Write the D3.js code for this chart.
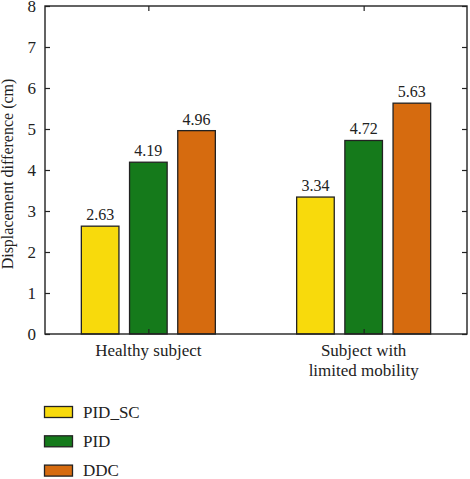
<!DOCTYPE html>
<html><head><meta charset="utf-8">
<script src="https://cdn.jsdelivr.net/npm/d3@7"></script>
<style>body{margin:0;background:#fff;}</style>
</head><body>
<svg id="c" width="470" height="479"></svg>
<script>
const categories = ["Healthy subject", "Subject with\nlimited mobility"];
const seriesNames = ["PID_SC", "PID", "DDC"];
const pidSC = [2.63, 3.34];
const pid = [4.19, 4.72];
const ddc = [4.96, 5.63];
const colors = ["#F8DA0C", "#157A1B", "#D66B0F"];
const yTicks = [0,1,2,3,4,5,6,7,8];

const FONT = "'Liberation Serif', 'Times New Roman', 'DejaVu Serif', serif";
const series = [pidSC, pid, ddc];
const svg = d3.select("#c");
const L = 45, R = 467, T = 6, B = 334;
const x = d3.scalePoint().domain(d3.range(categories.length)).range([L, R]).padding(0.48);
const xs = d3.scaleBand().domain(d3.range(seriesNames.length)).range([-67, 67]).paddingInner(0.22);
const y = d3.scaleLinear().domain([0, 8]).range([B, T]);

// bars
categories.forEach((c, ci) => {
  const g = svg.append("g").attr("transform", `translate(${x(ci)},0)`);
  series.forEach((s, si) => {
    g.append("rect").attr("x", xs(si)).attr("y", y(s[ci])).attr("width", xs.bandwidth())
      .attr("height", y(0) - y(s[ci])).attr("fill", colors[si]).attr("stroke", "#222").attr("stroke-width", 1.3);
    g.append("text").attr("x", xs(si) + xs.bandwidth()/2).attr("y", y(s[ci]) - 6)
      .attr("text-anchor", "middle").attr("font-size", 16).text(s[ci].toFixed(2));
  });
});

// frame
svg.append("rect").attr("x", L).attr("y", T).attr("width", R - L).attr("height", B - T)
  .attr("fill", "none").attr("stroke", "#222").attr("stroke-width", 1.4);

// y axis
const yAx = svg.append("g").attr("transform", `translate(${L},0)`)
  .call(d3.axisLeft(y).tickValues(yTicks).tickSizeInner(-5).tickSizeOuter(0).tickPadding(9).tickFormat(d3.format("d")));
yAx.select(".domain").remove();
yAx.selectAll("text").attr("font-size", 17);
yAx.selectAll("line").attr("stroke", "#222").attr("stroke-width", 1.2);
const yAxR = svg.append("g").attr("transform", `translate(${R},0)`)
  .call(d3.axisRight(y).tickValues(yTicks).tickSizeInner(-5).tickSizeOuter(0).tickFormat(""));
yAxR.select(".domain").remove();
yAxR.selectAll("line").attr("stroke", "#222").attr("stroke-width", 1.2);

// x axis ticks
const xAx = svg.append("g").attr("transform", `translate(0,${B})`)
  .call(d3.axisBottom(x).tickSizeInner(-5).tickSizeOuter(0).tickFormat(""));
xAx.select(".domain").remove();
xAx.selectAll("line").attr("stroke", "#222").attr("stroke-width", 1.2);
const xAxT = svg.append("g").attr("transform", `translate(0,${T})`)
  .call(d3.axisTop(x).tickSizeInner(-5).tickSizeOuter(0).tickFormat(""));
xAxT.select(".domain").remove();
xAxT.selectAll("line").attr("stroke", "#222").attr("stroke-width", 1.2);

// category labels
categories.forEach((c, ci) => {
  const lines = c.split("\n");
  const t = svg.append("text").attr("x", x(ci)).attr("y", 356).attr("text-anchor", "middle").attr("font-size", 17);
  lines.forEach((ln, li) => t.append("tspan").attr("x", x(ci)).attr("dy", li === 0 ? 0 : 19.5).text(ln));
});

// y label
svg.append("text").attr("transform", `translate(13,${(T + B)/2 + 4}) rotate(-90)`)
  .attr("text-anchor", "middle").attr("font-size", 16).text("Displacement difference (cm)");

// legend
seriesNames.forEach((n, i) => {
  const cy = 412 + i * 29.3;
  svg.append("rect").attr("x", 44.5).attr("y", cy - 5.5).attr("width", 28).attr("height", 11)
    .attr("fill", colors[i]).attr("stroke", "#222").attr("stroke-width", 1.3);
  svg.append("text").attr("x", 83).attr("y", cy + 5.5).attr("font-size", 17).text(n);
});

svg.selectAll("text").attr("font-family", FONT).style("font-family", FONT).attr("fill", "#222");
</script>
</body></html>
